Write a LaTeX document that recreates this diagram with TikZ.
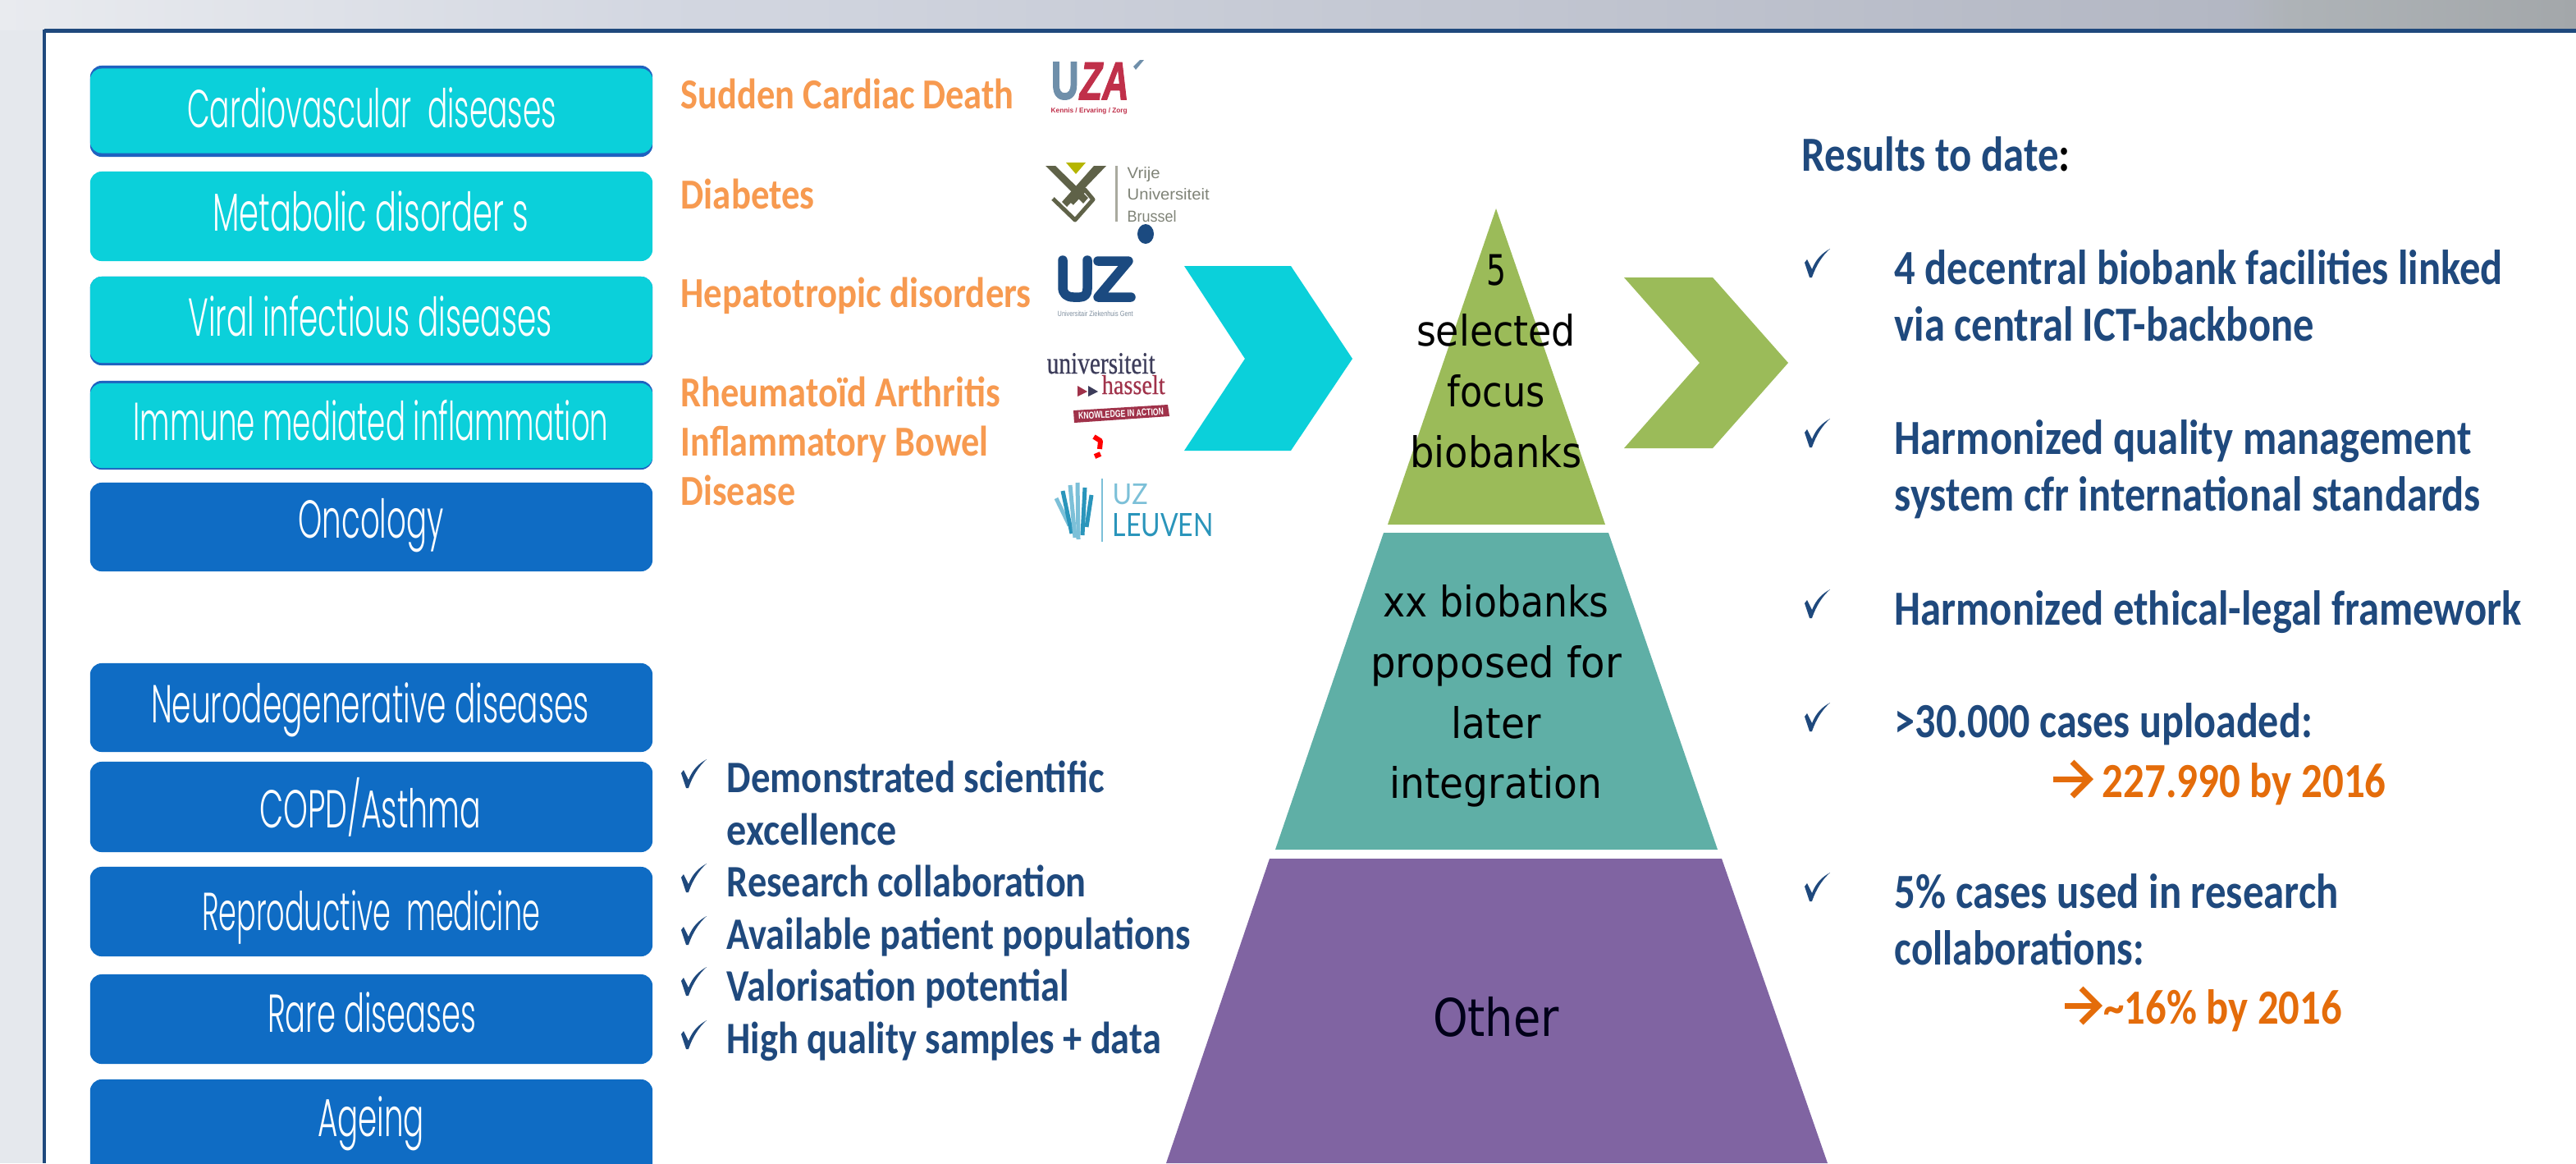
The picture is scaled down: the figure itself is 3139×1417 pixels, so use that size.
\documentclass[tikz,border=0pt]{standalone}
\usepackage{fontspec}
\usepackage{graphicx}
\setmainfont{Carlito}
\newfontfamily\carl{Carlito}
\newfontfamily\boxfont{Poppins Light}
\newfontfamily\djv{DejaVu Sans}
\newfontfamily\libs{Liberation Sans}
\newfontfamily\libfb{Liberation Sans}[FakeBold=2]
\newfontfamily\libr{Liberation Serif}[FakeBold=0.6]
\newfontfamily\lat{Lato}
\newlength\pxu \setlength\pxu{0.01cm}
\newcommand\fw[2]{\resizebox{#1\pxu}{\height}{#2}}
\newcommand\fwh[3]{\resizebox{#1\pxu}{#2\pxu}{#3}}
\definecolor{navy}{HTML}{1F497D}
\definecolor{tealc}{HTML}{0BD0DA}
\definecolor{bluec}{HTML}{0F6CC4}
\definecolor{edgeb}{HTML}{1F62C0}
\definecolor{orangel}{HTML}{F79A50}
\definecolor{oranged}{HTML}{E46C0A}
\definecolor{pgreen}{HTML}{9BBB59}
\definecolor{pteal}{HTML}{5FAFA6}
\definecolor{ppurple}{HTML}{8064A2}
\definecolor{olive}{HTML}{5F6248}
\definecolor{vubgray}{HTML}{808478}
\definecolor{uzblue}{HTML}{1B4A80}
\definecolor{hred}{HTML}{A0324A}
\definecolor{hnavy}{HTML}{3C3C5A}
\definecolor{lvlight}{HTML}{7CC0D8}
\definecolor{lvdark}{HTML}{2A95BB}
\definecolor{uzagrey}{HTML}{6F8FAA}
\definecolor{uzared}{HTML}{C0304A}
\definecolor{bgA}{HTML}{E9EBEF}
\definecolor{bgB}{HTML}{D3D7E1}
\definecolor{bgC}{HTML}{B3B7C3}
\definecolor{bgD}{HTML}{AEB3B7}
\definecolor{bgE}{HTML}{A3A7AA}
\definecolor{bgL}{HTML}{E5E8ED}
\definecolor{vubyellow}{HTML}{B5B500}
\definecolor{vubbar}{HTML}{A9AA9F}
\definecolor{gentgray}{HTML}{8090A0}
\tikzset{
  boxshape/.style={rounded corners=0.14cm,minimum width=6.85cm,inner sep=0pt,draw=none},
  tealbox/.style={boxshape,fill=tealc},
  bluebox/.style={boxshape,fill=bluec},
  edgebox/.style={boxshape,fill=edgeb},
  boxlbl/.style={anchor=base,inner sep=0pt,text=white,font=\boxfont\fontsize{18.5}{20}\selectfont},
  orangelbl/.style={anchor=base west,inner sep=0pt,text=orangel,font=\carl\bfseries\fontsize{14.8}{16}\selectfont},
  listlbl/.style={anchor=base west,inner sep=0pt,text=navy,font=\carl\bfseries\fontsize{15.6}{17}\selectfont},
  reslbl/.style={anchor=base west,inner sep=0pt,text=navy,font=\carl\bfseries\fontsize{17}{19}\selectfont},
  resorange/.style={reslbl,text=oranged},
  resarrow/.style={draw=oranged,line width=0.07cm},
  pyrlbl/.style={anchor=base,inner sep=0pt,text=black,font=\djv\fontsize{14.6}{16}\selectfont},
  logotxt/.style={anchor=base west,inner sep=0pt},
}
\newcommand\chkmark[2]{\fill[navy,shift={(#1,#2)}] (0,17) -- (3,13) -- (9,25) .. controls (14,12) and (22,5) .. (31,0) .. controls (22,8) and (14,20) .. (9,35) -- (6,35) -- cycle;}
\begin{document}
\begin{tikzpicture}[x=0.01cm,y=-0.01cm]
\clip (0,0) rectangle (3139,1417);
% background
\fill[white] (0,0) rectangle (3139,1417);
\shade[left color=bgA,right color=bgB] (0,0) rectangle (800.5,37);
\shade[left color=bgB,right color=bgC] (800,0) rectangle (2720.5,37);
\shade[left color=bgC,right color=bgD] (2720,0) rectangle (2790.5,37);
\shade[left color=bgD,right color=bgE] (2790,0) rectangle (3139,37);
\fill[bgL] (0,37) rectangle (54,1417);
\draw[navy,line width=0.05cm] (3139,37) -- (54,37);
\draw[navy,line width=0.03cm] (54,36) -- (54,1417);
% boxes, upper group
\node[edgebox,minimum height=1.11cm] (e1) at (452.5,135.5) {};
\node[tealbox,minimum height=1.03cm] (b1) at (452.5,135) {};
\node[tealbox,minimum height=1.09cm] (b2) at (452.5,263.5) {};
\node[edgebox,minimum height=1.08cm] (e3) at (452.5,391) {};
\node[tealbox,minimum height=1.05cm] (b3) at (452.5,389.5) {};
\node[edgebox,minimum height=1.08cm] (e4) at (452.5,518) {};
\node[tealbox,minimum height=1.03cm] (b4) at (452.5,518.5) {};
\node[bluebox,minimum height=1.08cm] (b5) at (452.5,642) {};
% boxes, lower group
\node[bluebox,minimum height=1.08cm] (b6) at (452.5,862) {};
\node[bluebox,minimum height=1.10cm] (b7) at (452.5,983) {};
\node[bluebox,minimum height=1.09cm] (b8) at (452.5,1110.5) {};
\node[bluebox,minimum height=1.09cm] (b9) at (452.5,1241.5) {};
\node[bluebox,minimum height=1.60cm] (b10) at (452.5,1395) {};
\node[boxlbl] (t1) at (453,155) {\fw{450}{Cardiovascular~~diseases}};
\node[boxlbl] (t2) at (452,281) {\fw{385}{Metabolic disorder s}};
\node[boxlbl] (t3) at (451,409) {\fw{443}{Viral infectious diseases}};
\node[boxlbl] (t4) at (452,536) {\fw{579}{Immune mediated inflammation}};
\node[boxlbl] (t5) at (452,655) {\fw{177}{Oncology}};
\node[boxlbl] (t6) at (451,880) {\fw{534}{Neurodegenerative~diseases}};
\node[boxlbl] (t7) at (451,1008) {\fw{270}{COPD/Asthma}};
\node[boxlbl] (t8) at (452,1133) {\fw{412}{Reproductive~~medicine}};
\node[boxlbl] (t9) at (453,1257) {\fw{254}{Rare diseases}};
\node[boxlbl] (t10) at (452,1384) {\fw{130}{Ageing}};
% orange labels
\node[orangelbl] (o1) at (829,132) {\fw{406}{Sudden Cardiac Death}};
\node[orangelbl] (o2) at (829,254) {\fw{163}{Diabetes}};
\node[orangelbl] (o3) at (829,374) {\fw{427}{Hepatotropic disorders}};
\node[orangelbl] (o4) at (829,495) {\fw{389}{Rheumatoïd Arthritis}};
\node[orangelbl] (o5) at (829,555) {\fw{375}{Inflammatory Bowel}};
\node[orangelbl] (o6) at (829,615) {\fw{140}{Disease}};
% UZA logo
\node[logotxt,anchor=south west,text=uzagrey] (uzau) at (1280,122) {\fwh{34}{45}{\libfb\bfseries U}};
\node[logotxt,anchor=south west,text=uzared] (uzaz) at (1315,122) {\fwh{60}{45}{\libfb\bfseries\itshape ZA}};
\fill[uzagrey] (1381,81) -- (1389,73) -- (1394,73) -- (1384,85) -- cycle;
\node[logotxt,text=uzared] (uzat) at (1280,137) {\fw{93}{\libs\bfseries\fontsize{2.4}{3}\selectfont Kennis / Ervaring / Zorg}};
% VUB logo
\fill[olive] (1274,202) -- (1286,202) -- (1326,241) -- (1320,248) -- cycle;
\fill[olive] (1333,202) -- (1348,202) -- (1300,252) -- (1294,246) -- cycle;
\draw[olive,line width=0.05cm,line join=round] (1283,242) -- (1310,268) -- (1332,243) -- (1322,231) -- (1306,248);
\fill[vubyellow] (1299,198) -- (1323,198) -- (1311,212) -- cycle;
\draw[vubbar,line width=0.03cm] (1360,202) -- (1360,270);
\node[logotxt,text=vubgray] (vu1) at (1373,217) {\fw{40}{\libs\fontsize{5.5}{7}\selectfont Vrije}};
\node[logotxt,text=vubgray] (vu2) at (1373,243) {\fw{100}{\libs\fontsize{5.5}{7}\selectfont Universiteit}};
\node[logotxt,text=vubgray] (vu3) at (1373,270) {\fw{60}{\libs\fontsize{5.5}{7}\selectfont Brussel}};
\fill[uzblue] (1396,285) ellipse (10 and 12);
% UZ Gent logo
\draw[uzblue,line width=0.115cm,line cap=round,line join=round] (1295,317) -- (1295,350) .. controls (1295,358) and (1300,362) .. (1308,362) -- (1316,362) .. controls (1322,362) and (1325,358) .. (1325,352) -- (1325,317);
\draw[uzblue,line width=0.115cm,line cap=round,line join=round] (1338,318) -- (1375,318) -- (1338,362) -- (1378,362);
\node[logotxt,text=gentgray] (gent) at (1288,385) {\fw{92}{\libs\fontsize{2.6}{3}\selectfont Universitair Ziekenhuis Gent}};
% Hasselt logo
\node[logotxt,text=hnavy] (has1) at (1275,455) {\fwh{132}{25}{\libr universiteit}};
\node[logotxt,text=hred] (has2) at (1342,480) {\fwh{77}{23}{\libr hasselt}};
\fill[hred] (1313,470) -- (1325,477) -- (1313,483) -- cycle;
\fill[hnavy] (1326,470) -- (1338,477) -- (1326,483) -- cycle;
\fill[hred] (1308,500) -- (1423,493) -- (1425,507) -- (1309,515) -- cycle;
\node[inner sep=0pt,text=white,rotate=3] (has3) at (1366,504) {\fw{104}{\libs\bfseries\fontsize{3.4}{4}\selectfont KNOWLEDGE IN ACTION}};
\draw[red,line width=0.06cm,line join=round] (1333,532) -- (1341,537) -- (1340,547);
\draw[red,line width=0.06cm] (1341,553) -- (1334,556);
% UZ Leuven logo
\foreach \a/\b/\p/\q/\c in {1287/607/1303/640/lvlight,1295/598/1306/650/lvdark,1304/591/1310/655/lvlight,1313/588/1314/657/lvlight,1322/594/1319/652/lvdark,1330/603/1324/642/lvdark}{
  \draw[\c,line width=0.05cm] (\a,\b) -- (\p,\q);
}
\draw[lvlight,line width=0.02cm] (1343,583) -- (1343,660);
\node[logotxt,anchor=south west,text=lvlight] (lv1) at (1355,615) {\fwh{43}{25}{\lat UZ}};
\node[logotxt,anchor=south west,text=lvdark] (lv2) at (1355,655) {\fwh{123}{28}{\lat LEUVEN}};
% chevrons
\fill[tealc] (1443,324) -- (1573,324) -- (1648,437) -- (1573,549) -- (1443,549) -- (1517,437) -- cycle;
\fill[pgreen] (1979,338) -- (2087,338) -- (2179,442) -- (2087,546) -- (1979,546) -- (2071,442) -- cycle;
% pyramid
\fill[pgreen] (1823,254) -- (1956,639) -- (1691,639) -- cycle;
\fill[pteal] (1686,649) -- (1960,649) -- (2093,1035) -- (1554,1035) -- cycle;
\fill[ppurple] (1547,1046) -- (2098,1046) -- (2227,1417) -- (1421,1417) -- cycle;
\node[pyrlbl] (p1) at (1823,347) {\fw{24}{5}};
\node[pyrlbl] (p2) at (1823,421) {\fw{194}{selected}};
\node[pyrlbl] (p3) at (1823,495) {\fw{119}{focus}};
\node[pyrlbl] (p4) at (1823,569) {\fw{209}{biobanks}};
\node[pyrlbl] (p5) at (1823,751) {\fw{275}{xx biobanks}};
\node[pyrlbl] (p6) at (1823,825) {\fw{306}{proposed~for}};
\node[pyrlbl] (p7) at (1823,899) {\fw{109}{later}};
\node[pyrlbl] (p8) at (1823,972) {\fw{259}{integration}};
\node[pyrlbl,font=\djv\fontsize{18}{20}\selectfont,text=black!90!blue] (p9) at (1823,1262) {\fw{154}{Other}};
% criteria list
\chkmark{830}{925}\chkmark{830}{1052}\chkmark{830}{1116}\chkmark{830}{1178}\chkmark{830}{1243}
\node[listlbl] (l1) at (885,965) {\fw{460}{Demonstrated scientific}};
\node[listlbl] (l2) at (885,1029) {\fw{207}{excellence}};
\node[listlbl] (l3) at (885,1092) {\fw{438}{Research collaboration}};
\node[listlbl] (l4) at (885,1156) {\fw{565}{Available patient populations}};
\node[listlbl] (l5) at (885,1219) {\fw{417}{Valorisation potential}};
\node[listlbl] (l6) at (885,1283) {\fw{529}{High quality samples + data}};
% results
\chkmark{2199}{303}\chkmark{2199}{510}\chkmark{2199}{718}\chkmark{2199}{856}\chkmark{2199}{1063}
\node[reslbl] (r0) at (2195,208) {\fw{327}{Results to date{\color{black}:}}};
\node[reslbl] (r1) at (2308,346) {\fw{741}{4 decentral biobank~facilities linked}};
\node[reslbl] (r2) at (2308,415) {\fw{511}{via central ICT-backbone}};
\node[reslbl] (r3) at (2308,553) {\fw{703}{Harmonized quality management}};
\node[reslbl] (r4) at (2308,622) {\fw{714}{system cfr international standards}};
\node[reslbl] (r5) at (2308,761) {\fw{764}{Harmonized ethical-legal framework}};
\node[reslbl] (r6) at (2308,898) {\fw{509}{>30.000 cases uploaded:}};
\draw[resarrow] (2502,949) -- (2544,949);
\draw[resarrow] (2525,928) -- (2546,949) -- (2525,970);
\node[resorange] (r7) at (2561,971) {\fw{346}{227.990 by 2016}};
\node[reslbl] (r8) at (2308,1106) {\fw{541}{5\% cases used in research}};
\node[reslbl] (r9) at (2308,1175) {\fw{304}{collaborations:}};
\draw[resarrow] (2516,1225) -- (2555,1225);
\draw[resarrow] (2536,1204) -- (2557,1225) -- (2536,1246);
\node[resorange] (r10) at (2563,1247) {\fw{290}{\textasciitilde 16\% by 2016}};
\end{tikzpicture}
\end{document}
